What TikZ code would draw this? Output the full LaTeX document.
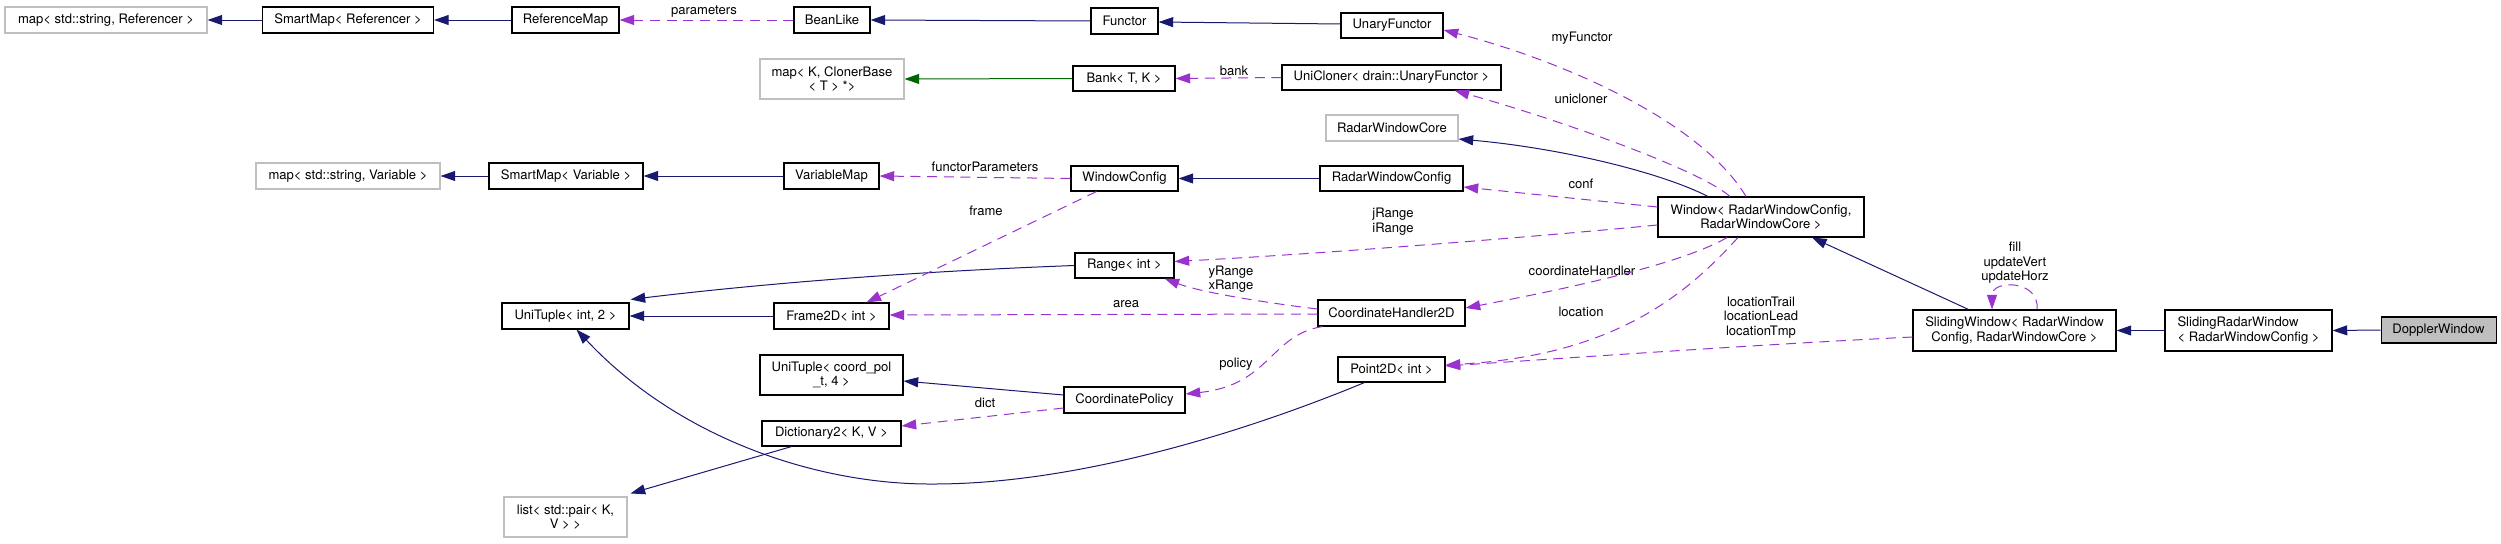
\documentclass[tikz,border=0pt]{standalone}
\usepackage{fontspec}
\setmainfont{TeX Gyre Heros}
\usetikzlibrary{arrows.meta,calc}
\definecolor{edgeblue}{HTML}{191970}
\definecolor{edgepurple}{HTML}{9A32CD}
\definecolor{edgegreen}{HTML}{006400}
\definecolor{boxgray}{HTML}{BFBFBF}
\begin{document}
\begin{tikzpicture}[x=0.75pt,y=-0.75pt,
  font=\fontsize{9.8pt}{10.8pt}\selectfont,
  bx/.style 2 args={minimum width=#1*0.75pt, minimum height=#2*0.75pt},
  cls/.style={draw=black, line width=0.8pt, fill=white, inner sep=0pt, align=center},
  ext/.style={draw=boxgray, line width=0.8pt, fill=white, inner sep=0pt, align=center},
  cur/.style={draw=black, line width=0.8pt, fill=boxgray, inner sep=0pt, align=center},
  lbl/.style={inner sep=0pt, align=center, text=black},
  tip/.style={-{Triangle[length=11pt,width=7.5pt]}},
  inh/.style={draw=edgeblue, line width=0.75pt, tip},
  tmpl/.style={draw=edgegreen, line width=0.75pt, tip},
  use/.style={draw=edgepurple, line width=0.75pt, dash pattern=on 7.5pt off 5pt, tip}]
\useasboundingbox (0,0) rectangle (2501,543);

% ---- nodes ----
\node[ext,bx={202}{26}] (mapRef) at (106,20) {map< std::string, Referencer >};
\node[cls,bx={171}{26}] (smRef) at (348,20) {SmartMap< Referencer >};
\node[cls,bx={107}{26}] (refMap) at (565.5,20) {ReferenceMap};
\node[cls,bx={76}{26}] (bean) at (832,20) {BeanLike};
\node[cls,bx={67}{26}] (functor) at (1124.5,21) {Functor};
\node[cls,bx={102}{25}] (unaryF) at (1392,25.5) {UnaryFunctor};
\node[ext,bx={144}{40}] (mapK) at (832,79) {map< K, ClonerBase\\< T > *>};
\node[cls,bx={102}{25}] (bank) at (1124,78.5) {Bank< T, K >};
\node[cls,bx={219}{25}] (uniCl) at (1391.5,77.5) {UniCloner< drain::UnaryFunctor >};
\node[ext,bx={132}{26}] (rwCore) at (1392,128) {RadarWindowCore};
\node[ext,bx={184}{26}] (mapVar) at (348,176) {map< std::string, Variable >};
\node[cls,bx={154}{26}] (smVar) at (566,176) {SmartMap< Variable >};
\node[cls,bx={95}{26}] (varMap) at (831.5,176) {VariableMap};
\node[cls,bx={107}{25}] (winConf) at (1124.5,178.5) {WindowConfig};
\node[cls,bx={143}{25}] (rwConf) at (1391.5,178.5) {RadarWindowConfig};
\node[cls,bx={206}{40}] (window) at (1761,217) {Window< RadarWindowConfig,\\RadarWindowCore >};
\node[cls,bx={99}{25}] (range) at (1124.5,265.5) {Range< int >};
\node[cls,bx={127}{26}] (uniT) at (565.5,316) {UniTuple< int, 2 >};
\node[cls,bx={115}{26}] (frame) at (831.5,316) {Frame2D< int >};
\node[cls,bx={147}{26}] (ch2d) at (1391.5,313) {CoordinateHandler2D};
\node[cls,bx={143}{40}] (uniTC) at (831.5,375) {UniTuple< coord\_pol\\\_t, 4 >};
\node[cls,bx={107}{25}] (point) at (1391.5,369.5) {Point2D< int >};
\node[cls,bx={121}{26}] (coordPol) at (1124.5,400) {CoordinatePolicy};
\node[cls,bx={203}{41}] (sliding) at (2014.5,330.5) {SlidingWindow< RadarWindow\\Config, RadarWindowCore >};
\node[cls,bx={167}{41},align=left] (slidingR) at (2248.5,330.5) {SlidingRadarWindow\\< RadarWindowConfig >};
\node[cur,bx={115}{26}] (doppler) at (2438.5,330) {DopplerWindow};
\node[cls,bx={139}{25}] (dict) at (831.5,433.5) {Dictionary2< K, V >};
\node[ext,bx={123}{40}] (list) at (565.5,517) {list< std::pair< K,\\V > >};

% ---- labels ----
\node[lbl] (lParams) at (704,12) {parameters};
\node[lbl] (lBank) at (1234,71) {bank};
\node[lbl] (lFuncPar) at (985,167) {functorParameters};
\node[lbl] (lFrame) at (986,211) {frame};
\node[lbl] (lMyF) at (1582,38) {myFunctor};
\node[lbl] (lUniCl) at (1581,99) {unicloner};
\node[lbl] (lConf) at (1581,184) {conf};
\node[lbl] (lJI) at (1393,221.5) {jRange\\iRange};
\node[lbl] (lCH) at (1582,271) {coordinateHandler};
\node[lbl] (lLoc) at (1581,312) {location};
\node[lbl] (lLocs) at (1761,317.5) {locationTrail\\locationLead\\locationTmp};
\node[lbl] (lFill) at (2015,263) {fill\\updateVert\\updateHorz};
\node[lbl] (lYX) at (1231,279) {yRange\\xRange};
\node[lbl] (lArea) at (1126,304) {area};
\node[lbl] (lPolicy) at (1236,364) {policy};
\node[lbl] (lDict) at (985,403) {dict};

% ---- inheritance (blue) ----
\draw[inh] (smRef.west) -- (mapRef.east);
\draw[inh] (refMap.west) -- (smRef.east);
\draw[inh] (functor.west) -- (bean.east);
\draw[inh] ($(unaryF.west)+(0,-1.5)$) -- ($(functor.east)+(0,1)$);
\draw[inh] (smVar.west) -- (mapVar.east);
\draw[inh] (varMap.west) -- (smVar.east);
\draw[inh] (rwConf.west) -- (winConf.east);
\draw[inh] ($(window.north)+(-53,0)$) .. controls (1660,172) and (1560,148) .. ($(rwCore.east)+(0,11)$);
\draw[inh] (range.west) .. controls (900,272) and (750,285) .. ($(uniT.north east)+(1,-3)$);
\draw[inh] (frame.west) -- (uniT.east);
\draw[inh] ($(point.south)+(-27,0)$) .. controls (1250,430) and (1080,484) .. (934,484)
   .. controls (820,485) and (680,440) .. ($(uniT.south)+(11,0)$);
\draw[inh] ($(coordPol.west)+(0,-5)$) -- ($(uniTC.east)+(0,6)$);
\draw[inh] ($(dict.south)+(-40,0)$) -- ($(list.north east)+(3,-3)$);
\draw[inh] ($(sliding.north)+(-46,0)$) -- ($(window.south)+(51,0)$);
\draw[inh] (slidingR.west) -- (sliding.east);
\draw[inh] (doppler.west) -- (slidingR.east);

% ---- template (green) ----
\draw[tmpl] (bank.west) -- (mapK.east);

% ---- usage (purple dashed) ----
\draw[use] (bean.west) -- (refMap.east);
\draw[use] (uniCl.west) -- (bank.east);
\draw[use] (winConf.west) -- (varMap.east);
\draw[use] ($(winConf.south)+(-28,0)$) -- ($(frame.north)+(35,0)$);
\draw[use] ($(window.north)+(-15,0)$) .. controls (1700,120) and (1560,60) .. ($(unaryF.east)+(0,4.5)$);
\draw[use] ($(window.north)+(-31,0)$) .. controls (1700,170) and (1560,120) .. ($(uniCl.south east)+(-47,0)$);
\draw[use] ($(window.west)+(0,-10)$) -- ($(rwConf.east)+(0,8.5)$);
\draw[use] ($(window.west)+(0,8)$) .. controls (1500,240) and (1300,255) .. ($(range.east)+(0,-4)$);
\draw[use] ($(window.south)+(-34,0)$) .. controls (1680,265) and (1560,290) .. ($(ch2d.east)+(0,-5)$);
\draw[use] ($(window.south)+(-23,0)$) .. controls (1690,290) and (1620,355) .. ($(point.east)+(0,-4.5)$);
\draw[use] ($(sliding.west)+(0,6.5)$) .. controls (1750,345) and (1600,356) .. ($(point.east)+(0,-3.5)$);
\draw[use] ($(sliding.north)+(22.5,0)$) .. controls +(3,-30) and +(0,-30) .. ($(sliding.north)+(-22.5,0)$);
\draw[use] ($(ch2d.west)+(0,-4)$) .. controls (1260,302) and (1200,292) .. ($(range.south east)+(-10,0)$);
\draw[use] ($(ch2d.west)+(0,1)$) -- ($(frame.east)+(0,-1)$);
\draw[use] ($(ch2d.south west)+(5,0)$) .. controls (1270,335) and (1270,385) .. ($(coordPol.east)+(0,-6)$);
\draw[use] ($(coordPol.west)+(0,8)$) -- ($(dict.east)+(0,-7.5)$);
\end{tikzpicture}
\end{document}
